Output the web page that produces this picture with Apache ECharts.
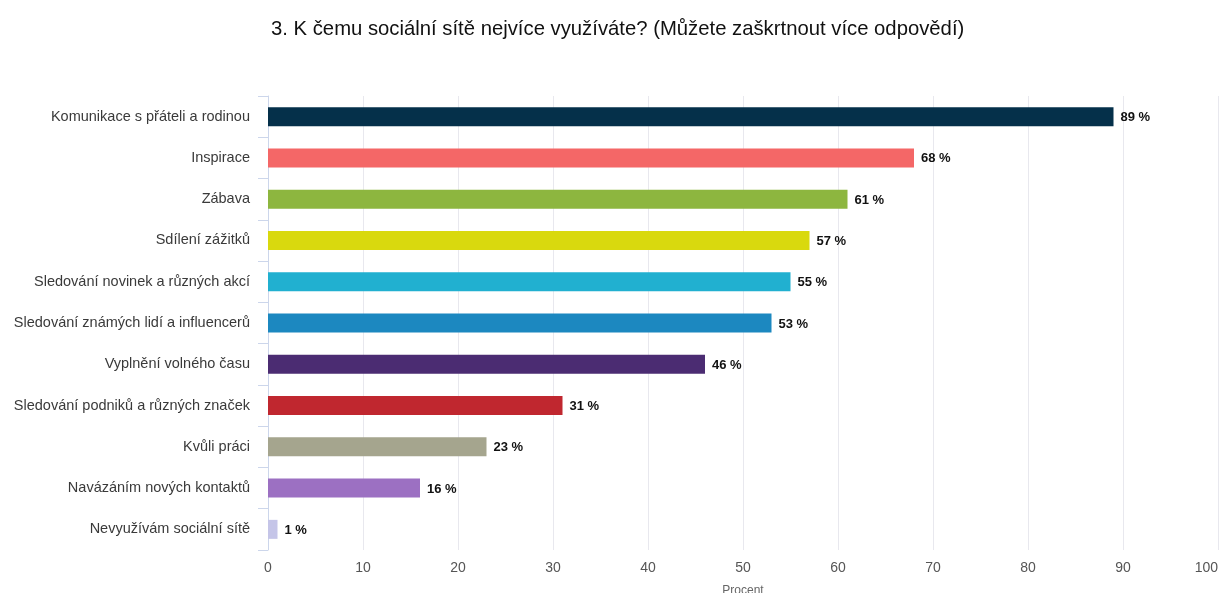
<!DOCTYPE html>
<html><head><meta charset="utf-8">
<script src="https://cdn.jsdelivr.net/npm/echarts@6/dist/echarts.min.js"></script>
<style>html,body{margin:0;padding:0;background:#fff;overflow:hidden}#c{width:1220px;height:593px}</style>
</head><body><div id="c"></div>
<script>
const categories = ["Komunikace s přáteli a rodinou","Inspirace","Zábava","Sdílení zážitků","Sledování novinek a různých akcí","Sledování známých lidí a influencerů","Vyplnění volného času","Sledování podniků a různých značek","Kvůli práci","Navázáním nových kontaktů","Nevyužívám sociální sítě"];
const values = [89,68,61,57,55,53,46,31,23,16,1];
const colors = ["#05304a","#f46767","#8db63f","#d9d90e","#21b0d0","#1c88c0","#4b2c72","#c0272f","#a5a58e","#9c70c2","#c5c5e8"];
const xTicks = [0,10,20,30,40,50,60,70,80,90,100];
const chart = echarts.init(document.getElementById('c'));
chart.setOption({
  animation:false,
  textStyle:{fontFamily:'Liberation Sans, Arial, sans-serif'},
  title:{text:'3. K čemu sociální sítě nejvíce využíváte? (Můžete zaškrtnout více odpovědí)',left:266,top:14,textStyle:{fontSize:20.3,fontWeight:'normal',color:'#111',fontFamily:'Liberation Sans, Arial, sans-serif'}},
  grid:{left:268,right:2,top:96,bottom:43,outerBoundsMode:'none',containLabel:false},
  xAxis:{type:'value',min:xTicks[0],max:xTicks[xTicks.length-1],interval:10,name:'Procent',nameLocation:'middle',nameGap:35,
    nameTextStyle:{color:'#666',fontSize:12},
    axisLine:{show:false},axisTick:{show:false},
    axisLabel:{color:'#555',fontSize:14,margin:11,alignMaxLabel:'right'},
    splitLine:{lineStyle:{color:'#e8e8ee',width:1}}},
  yAxis:{type:'category',data:categories,inverse:true,
    axisLine:{lineStyle:{color:'#ccd6eb'}},
    axisTick:{show:true,length:10,lineStyle:{color:'#ccd6eb'}},
    axisLabel:{color:'#3a3a3a',fontSize:14.5,margin:18}},
  series:[{type:'bar',data:values.map((v,i)=>({value:v,itemStyle:{color:colors[i]}})),barWidth:19,
    label:{show:true,position:'right',formatter:'{c} %',color:'#111',fontWeight:'bold',fontSize:13,distance:7,offset:[0,1]}}]
});
</script></body></html>
